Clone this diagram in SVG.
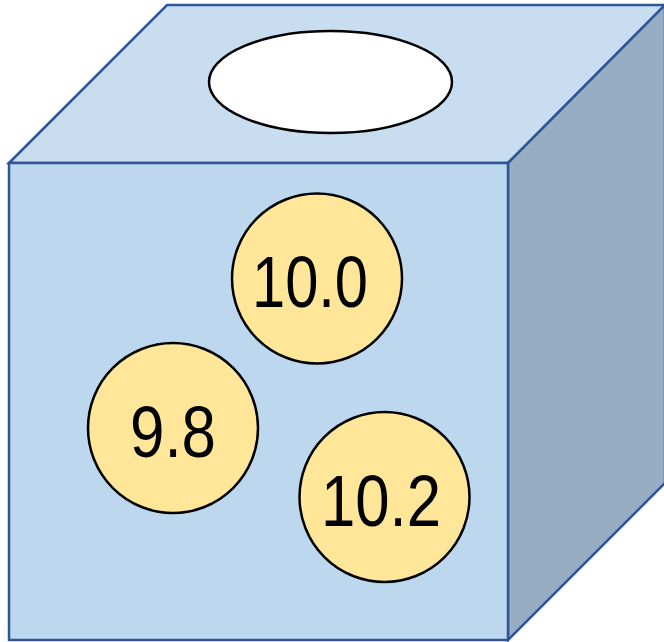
<svg xmlns="http://www.w3.org/2000/svg" width="664" height="642" viewBox="0 0 664 642">
<style>
.face{stroke:#2F5597;stroke-width:2.5;stroke-linejoin:miter}
.coin{fill:#FFE699;stroke:#000;stroke-width:2.5}
.lbl{font-family:"Liberation Sans",Arial,sans-serif;font-size:72px;fill:#000;text-anchor:middle}
</style>
<g id="box">
<polygon class="face" points="9,163 167,5 665,5 508,163" fill="#C9DDF1"/>
<polygon class="face" points="508,163 665,5 665,483 508,640" fill="#97ADC3"/>
<rect class="face" x="9" y="163" width="499" height="477" fill="#BDD7EE"/>
<ellipse id="hole" cx="330.5" cy="82" rx="121.5" ry="51" fill="#fff" stroke="#000" stroke-width="2.5"/>
</g>
<g id="coin1"><circle class="coin" cx="317" cy="278.5" r="85"/><text class="lbl" x="310" y="307" textLength="116" lengthAdjust="spacingAndGlyphs">10.0</text></g>
<g id="coin2"><circle class="coin" cx="173" cy="428" r="85"/><text class="lbl" x="173" y="457" textLength="86" lengthAdjust="spacingAndGlyphs">9.8</text></g>
<g id="coin3"><circle class="coin" cx="384.5" cy="497" r="85"/><text class="lbl" x="381" y="526" textLength="120" lengthAdjust="spacingAndGlyphs">10.2</text></g>
</svg>
